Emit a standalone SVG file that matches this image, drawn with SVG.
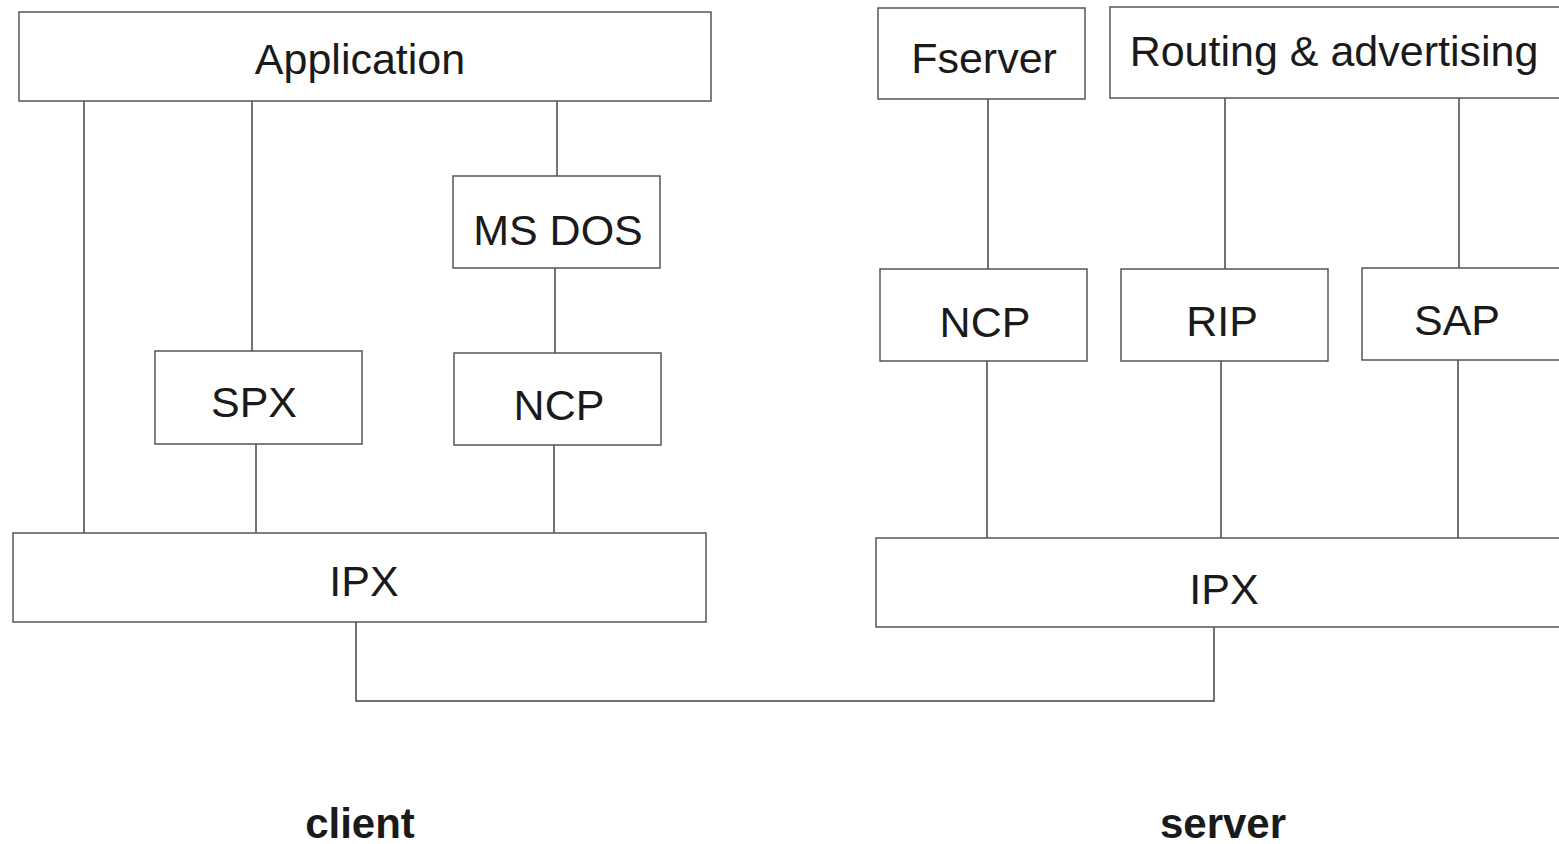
<svg xmlns="http://www.w3.org/2000/svg" width="1559" height="844" viewBox="0 0 1559 844">
<style>
.box{fill:#fff;stroke:#555;stroke-width:1.5}
.lbl{font-family:"Liberation Sans",Arial,sans-serif;font-size:43px;fill:#1a1a1a;text-anchor:middle}
.cap{font-family:"Liberation Sans",Arial,sans-serif;font-size:42px;font-weight:bold;fill:#1a1a1a;text-anchor:middle}
.ln{fill:none;stroke:#444;stroke-width:1.5}
</style>
<rect width="1559" height="844" fill="#fff"/>
<g id="connectors">
<line class="ln" x1="84" y1="101" x2="84" y2="533"/>
<line class="ln" x1="252" y1="101" x2="252" y2="351"/>
<line class="ln" x1="557" y1="101" x2="557" y2="176"/>
<line class="ln" x1="555" y1="268" x2="555" y2="353"/>
<line class="ln" x1="256" y1="444" x2="256" y2="533"/>
<line class="ln" x1="554" y1="445" x2="554" y2="533"/>
<polyline class="ln" points="356,622 356,701 1214,701 1214,627"/>
<line class="ln" x1="988" y1="99" x2="988" y2="269"/>
<line class="ln" x1="1225" y1="98" x2="1225" y2="269"/>
<line class="ln" x1="1459" y1="98" x2="1459" y2="268"/>
<line class="ln" x1="987" y1="361" x2="987" y2="538"/>
<line class="ln" x1="1221" y1="361" x2="1221" y2="538"/>
<line class="ln" x1="1458" y1="360" x2="1458" y2="538"/>
</g>
<g id="application"><rect class="box" x="19" y="12" width="692" height="89"/><text class="lbl" x="360" y="74">Application</text></g>
<g id="msdos"><rect class="box" x="453" y="176" width="207" height="92"/><text class="lbl" x="558" y="245">MS DOS</text></g>
<g id="spx"><rect class="box" x="155" y="351" width="207" height="93"/><text class="lbl" x="254" y="417">SPX</text></g>
<g id="ncp-client"><rect class="box" x="454" y="353" width="207" height="92"/><text class="lbl" x="559" y="420">NCP</text></g>
<g id="ipx-client"><rect class="box" x="13" y="533" width="693" height="89"/><text class="lbl" x="364" y="596">IPX</text></g>
<g id="fserver"><rect class="box" x="878" y="8" width="207" height="91"/><text class="lbl" x="984" y="73">Fserver</text></g>
<g id="routing"><rect class="box" x="1110" y="7" width="460" height="91"/><text class="lbl" x="1334" y="66">Routing &amp; advertising</text></g>
<g id="ncp-server"><rect class="box" x="880" y="269" width="207" height="92"/><text class="lbl" x="985" y="337">NCP</text></g>
<g id="rip"><rect class="box" x="1121" y="269" width="207" height="92"/><text class="lbl" x="1222" y="336">RIP</text></g>
<g id="sap"><rect class="box" x="1362" y="268" width="210" height="92"/><text class="lbl" x="1457" y="335">SAP</text></g>
<g id="ipx-server"><rect class="box" x="876" y="538" width="700" height="89"/><text class="lbl" x="1224" y="604">IPX</text></g>
<g id="captions"><text class="cap" x="360" y="838">client</text><text class="cap" x="1223" y="838">server</text></g>
</svg>
